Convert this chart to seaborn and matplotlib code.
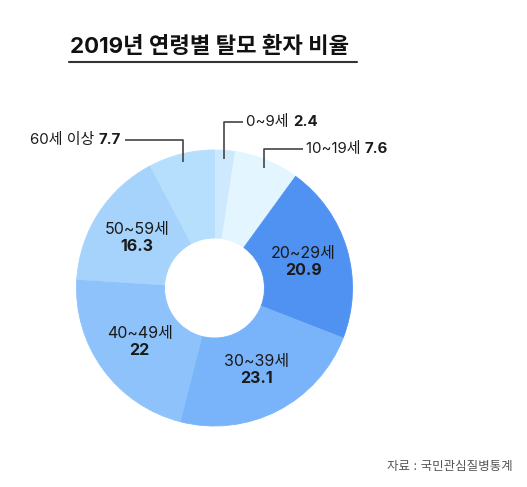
import numpy as np
import matplotlib
matplotlib.use("Agg")
import matplotlib.pyplot as plt
import seaborn as sns

# Data
ages = ['0~9세', '10~19세', '20~29세', '30~39세', '40~49세', '50~59세', '60세 이상']
shares = [2.4, 7.6, 20.9, 23.1, 22, 16.3, 7.7]
share_labels = ['2.4', '7.6', '20.9', '23.1', '22', '16.3', '7.7']
colors = ['#cde9fd', '#e3f5fe', '#4f92f2', '#79b4fa', '#8ec2fb', '#a6d3fc', '#b6defd']

title = '2019년 연령별 탈모 환자 비율'
source = '자료 : 국민관심질병통계'

sns.set_theme(style='white')
plt.rcParams['font.family'] = ['Inter', 'Noto Sans CJK KR', 'DejaVu Sans']

W, H = 527, 487
fig = plt.figure(figsize=(W / 100, H / 100), dpi=100)
ax = fig.add_axes([0, 0, 1, 1])

cx, cy, R, r_in = 214.5, H - 288, 138, 50
wedges, _ = ax.pie(shares, colors=colors, startangle=90, counterclock=False,
                   center=(cx, cy), radius=R,
                   wedgeprops=dict(width=R - r_in, linewidth=0.6))
for w, c in zip(wedges, colors):
    w.set_edgecolor(c)
ax.set_xlim(0, W)
ax.set_ylim(0, H)
ax.set_aspect('equal')
ax.axis('off')

# mid angles of wedges
mids = [np.deg2rad((w.theta1 + w.theta2) / 2) for w in wedges]

txt_col = '#1a1a1a'
line_col = '#444444'

# inside labels for big wedges
for i in range(2, 6):
    a = mids[i]
    rr = 0.67 * R
    x, y = cx + rr * np.cos(a), cy + rr * np.sin(a)
    ax.text(x, y + 1, ages[i], ha='center', va='bottom', fontsize=11.5, color=txt_col)
    ax.text(x, y - 1, share_labels[i], ha='center', va='top', fontsize=11.5,
            fontweight='bold', color=txt_col)

# outside labels with leader lines: (index, line y in px from top, end x, side)
outside = [(0, 122, 243, 'right'), (1, 149, 303, 'right'), (6, 140, 125, 'left')]
for i, ly, ex, side in outside:
    a = mids[i]
    rr = 0.94 * R
    px, py = cx + rr * np.cos(a), cy + rr * np.sin(a)
    ly = H - ly
    ax.plot([px, px, ex], [py, ly, ly], color=line_col, lw=1.2, solid_capstyle='butt')
    if side == 'right':
        t = ax.text(ex + 3, ly, ages[i] + ' ', ha='left', va='center', fontsize=10.8,
                    color=txt_col)
        ax.annotate(share_labels[i], xy=(1, 0), xycoords=t, ha='left', va='bottom',
                    fontsize=10.8, fontweight='bold', color=txt_col)
    else:
        t = ax.text(ex - 4, ly, share_labels[i], ha='right', va='center', fontsize=10.8,
                    fontweight='bold', color=txt_col)
        ax.annotate(ages[i] + ' ', xy=(0, 0), xycoords=t, ha='right', va='bottom',
                    fontsize=10.8, color=txt_col)

# title with underline
ax.text(70, H - 46, title, ha='left', va='center', fontsize=16, fontweight='bold',
        color='#111111')
ax.plot([69, 357], [H - 62, H - 62], color='#333333', lw=1.5)

ax.text(513, H - 467, source, ha='right', va='center', fontsize=9, color='#555555')

fig.savefig('out.png', dpi=100, facecolor='white')
